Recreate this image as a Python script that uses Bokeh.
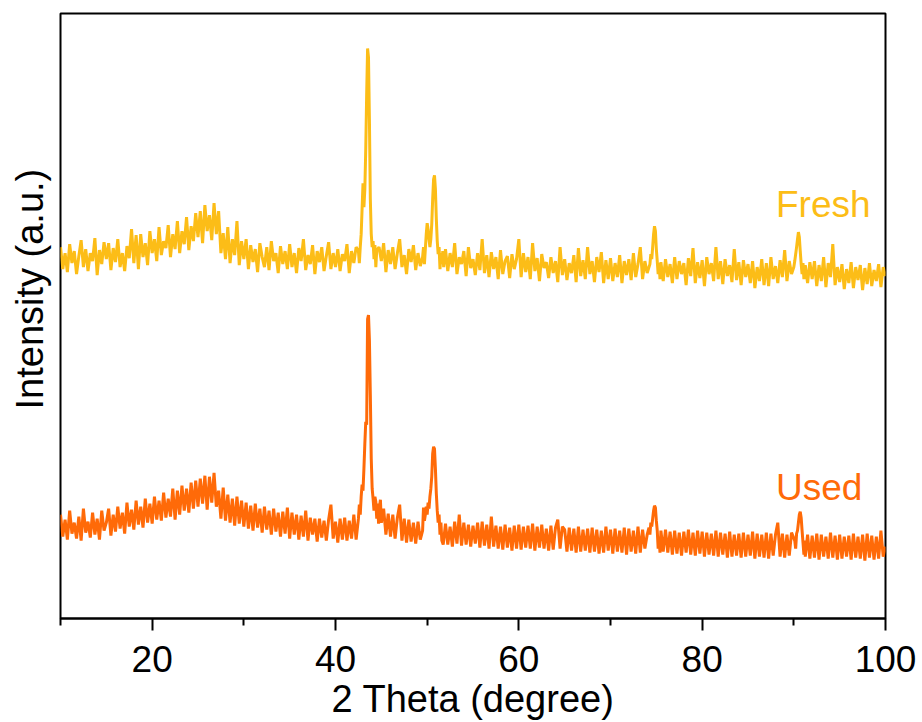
import numpy as np
from bokeh.plotting import figure
from bokeh.models import Range1d, FixedTicker, Label, Title, ColumnDataSource
from bokeh.embed import file_html
from bokeh.resources import INLINE

# ---------------- data (intensity in arbitrary units) ----------------
# Each segment: start angle, step, intensities
fresh_10_42 = [
    372, 350, 366, 347,  375, 356, 368, 345,  363, 379, 352, 370,  348, 366, 358, 381,
    344, 369, 355, 377,  360, 376, 349, 371,  357, 380, 352, 366,  348, 373, 361, 390,
    356, 384, 350, 385,  362, 376, 354, 388,  366, 380, 358, 392,  364, 378, 371, 394,
    362, 385, 370, 398,  366, 388, 375, 402,  369, 393, 378, 406,  382, 408, 376, 414,
    388, 404, 379, 416,  385, 408, 366, 386,  360, 392, 356, 380,  364, 398, 354, 378,
    360, 380, 350, 374,  357, 370, 347, 376,  362, 352, 372, 349,  378, 358, 366, 346,
    373, 355, 368, 350,  375, 352, 366, 346,  371, 358, 380, 349,  364, 355, 374, 345,
    368, 357, 372, 348,  363, 377, 350, 366,  352, 370, 348, 365,  358, 375, 346, 368,
    356, 372]
fresh_peak_43 = [368, 356, 372, 385, 410, 436, 412, 430, 470, 525, 571, 562, 500, 420,
                 385, 372, 378, 360, 374, 352, 369]
fresh_45_49 = [372, 358, 376, 347, 369, 355, 372, 350, 366, 380, 352, 364, 345, 370,
               357, 374, 349, 366, 353]
fresh_peak_51 = [362, 372, 355, 370, 385, 396, 390, 380, 372, 380, 395, 420, 440, 444,
                 430, 400, 378, 365, 372, 350, 366, 355, 368, 352]
fresh_52_74 = [
    370, 348, 366, 352,  376, 345, 362, 355,  368, 343, 372, 351,  360, 344, 366, 349,
    380, 346, 364, 342,  367, 350, 362, 340,  369, 345, 358, 363,  341, 365, 350, 360,
    380, 342, 366, 347,  362, 340, 376, 348,  361, 338, 365, 351,  357, 341, 362, 346,
    358, 337, 372, 344,  360, 339, 356, 346,  364, 337, 371, 343,  359, 340, 372, 345,
    358, 337, 362, 347,  367, 336, 359, 340,  361, 338, 356, 342,  364, 336, 358, 344,
    360, 339, 366, 342,  355, 372, 340, 358,  346]
fresh_peak_75 = [355, 365, 360, 372, 385, 393, 388, 370, 358, 345, 356, 340]
fresh_76_90 = [
    357, 338,  360, 342, 355, 336,  362, 340, 358, 345,  356, 334, 361, 343,
    371, 336, 357, 341,  359, 333, 362, 345,  356, 338, 372, 340,  358, 335, 360, 343,
    354, 337, 370, 339,  357, 334, 359, 342,  355, 336, 358, 331,  352, 338, 360, 334,
    356, 333, 362, 340,  353, 336, 359, 342,  369, 338, 358, 345]
fresh_peak_91 = [352, 358, 365, 372, 380, 387, 382, 368, 355, 345, 356, 340]
fresh_91_100 = [
    354, 336, 357,  340, 358, 333, 354,  338, 362, 332, 356,  342, 375, 334, 352,
    337, 355, 330, 350,  336, 357, 331, 352,  339, 354, 329, 351,  335, 356, 333, 349,
    338, 355, 332, 352,  343]

used_10_42 = [
    104, 82, 99, 79,  108, 85, 96, 80,  102, 78, 110, 86,  97, 81, 106, 84,
    100, 79, 108, 88,  96, 110, 83, 104,  87, 112, 90, 106,  85, 116, 92, 109,
    89, 118, 94, 112,  91, 120, 96, 115,  95, 122, 99, 118,  98, 126, 101, 120,
    102, 130, 99, 128,  104, 133, 108, 130,  106, 136, 110, 138,  112, 140, 115, 143,
    109, 142, 116, 146,  112, 128, 100, 131,  98, 124, 96, 120,  93, 122, 95, 118,
    92, 116, 90, 113,  88, 115, 91, 110,  86, 112, 89, 108,  84, 110, 87, 106,
    82, 107, 85, 111,  80, 106, 84, 104,  79, 103, 82, 108,  78, 101, 84, 100,
    77, 100, 81, 98,  78, 99, 114, 80,  97, 76, 100, 79,  101, 78, 98, 80,
    104, 79]
used_peak_43 = [100, 114, 104, 122, 134, 128, 150, 175, 197, 194, 300, 304, 279, 224,
                160, 130, 120, 108, 122, 117, 100, 115, 95, 112, 119, 96]
used_45_49 = [110, 84, 105, 82, 104, 80, 101, 114, 78, 100, 76, 99, 77, 96, 75, 97, 79]
used_peak_51 = [88, 111, 98, 104, 112, 104, 116, 110, 122, 130, 142, 165, 172, 170,
                150, 125, 108, 96, 104, 84, 96, 78]
used_52_74 = [
    74,
    95, 74, 92, 72,  97, 75, 104, 73,  96, 74, 94, 72,  93, 75, 96, 71,
    97, 73, 94, 70,  102, 72, 93, 70,  92, 69, 94, 71,  91, 68, 93, 70,
    94, 69, 92, 71,  93, 70, 95, 68,  92, 71, 94, 70,  90, 68, 93, 69,
    91, 99, 70, 92,  89, 67, 91, 68,  90, 66, 92, 67,  89, 68, 90, 66,
    91, 67, 89, 65,  88, 66, 92, 68,  89, 65, 90, 67,  88, 66, 91, 64,
    90, 67, 88, 65,  92, 66, 89, 70,  84]
used_peak_75 = [91, 84, 96, 92, 100, 108, 113, 111, 98, 88, 70, 82, 66]
used_76_90 = [
    88, 67,  89, 66, 87, 64,  88, 65, 86, 63,  87, 66, 89, 64,  86, 63, 88, 65,
    87, 62, 86, 64,  85, 63, 88, 62,  86, 64, 85, 61,  87, 62, 84, 63,  85, 61, 86, 62,
    84, 63, 87, 60,  85, 62, 84, 61,  86, 60, 85, 63,  84, 96, 62, 85,  61, 84, 63, 86]
used_peak_91 = [78, 70, 85, 88, 96, 104, 107, 101, 88, 76, 64, 78]
used_91_100 = [
    62, 84, 60,  83, 61, 85, 59,  84, 62, 82, 60,  86, 61, 83, 59,  84, 60, 82, 62,
    83, 59, 85, 61,  82, 60, 84, 58,  85, 61, 83, 59,  82, 60, 88, 62,  72]

fresh_segments = [(10.0, 0.25, fresh_10_42), (42.5, 0.1, fresh_peak_43),
                  (44.75, 0.25, fresh_45_49), (49.5, 0.1, fresh_peak_51),
                  (52.0, 0.25, fresh_52_74), (74.3, 0.1, fresh_peak_75),
                  (75.5, 0.25, fresh_76_90), (90.0, 0.1, fresh_peak_91),
                  (91.25, 0.25, fresh_91_100)]
used_segments = [(10.0, 0.25, used_10_42), (42.5, 0.1, used_peak_43),
                 (45.25, 0.25, used_45_49), (49.5, 0.1, used_peak_51),
                 (51.75, 0.25, used_52_74), (74.2, 0.1, used_peak_75),
                 (75.5, 0.25, used_76_90), (90.1, 0.1, used_peak_91),
                 (91.25, 0.25, used_91_100)]

series_names = ["Fresh", "Used"]
series_colors = ["#FCBD17", "#FF6A08"]
label_pos = [(88.05, 415), (88.05, 131)]
x_major = [20, 40, 60, 80, 100]
x_minor = [10, 30, 50, 70, 90]
x_title = "2 Theta (degree)"
y_title = "Intensity (a.u.)"


def build(segments):
    xs, ys = [], []
    for start, step, vals in segments:
        xs.extend(np.round(start + step * np.arange(len(vals)), 3))
        ys.extend(vals)
    xs = np.array(xs)
    ys = np.array(ys, dtype=float)
    order = np.argsort(xs, kind="stable")
    return xs[order], ys[order]


FONT = "Liberation Sans"

p = figure(width=920, height=722, output_backend="svg", toolbar_location=None,
           x_range=Range1d(10, 100), y_range=Range1d(0, 606),
           min_border_left=60, min_border_right=35, min_border_top=13,
           min_border_bottom=103)
p.xgrid.visible = False
p.ygrid.visible = False
p.outline_line_color = "black"
p.outline_line_width = 2
p.outline_line_alpha = 1
p.background_fill_color = "white"
p.border_fill_color = "white"

p.yaxis.visible = False
xa = p.xaxis[0]
xa.ticker = FixedTicker(ticks=x_major, minor_ticks=x_minor)
xa.axis_line_width = 2
xa.axis_line_color = "black"
xa.major_tick_line_width = 2
xa.minor_tick_line_width = 2
xa.major_tick_out = 12
xa.major_tick_in = 0
xa.minor_tick_out = 7
xa.minor_tick_in = 0
xa.major_label_text_font = FONT
xa.major_label_text_font_size = "37px"
xa.major_label_text_color = "black"
xa.major_label_standoff = 15
xa.axis_label = x_title
xa.axis_label_text_font = FONT
xa.axis_label_text_font_size = "38px"
xa.axis_label_text_font_style = "normal"
xa.axis_label_text_color = "black"
xa.axis_label_standoff = 3

ytitle = Title(text=y_title, align="left", offset=209, vertical_align="top",
               text_font=FONT, text_font_size="38px", text_font_style="normal",
               text_color="black", standoff=16)
p.add_layout(ytitle, "left")

for (segs, name, color, (lx, ly)) in zip([fresh_segments, used_segments],
                                          series_names, series_colors, label_pos):
    x, y = build(segs)
    src = ColumnDataSource(data=dict(x=x, y=y))
    p.line("x", "y", source=src, line_color=color, line_width=3.0)
    p.add_layout(Label(x=lx, y=ly, text=name, text_color=color,
                       text_font=FONT, text_font_size="37px",
                       text_baseline="alphabetic", text_align="left"))

open("out.html", "w").write(file_html(p, INLINE))
